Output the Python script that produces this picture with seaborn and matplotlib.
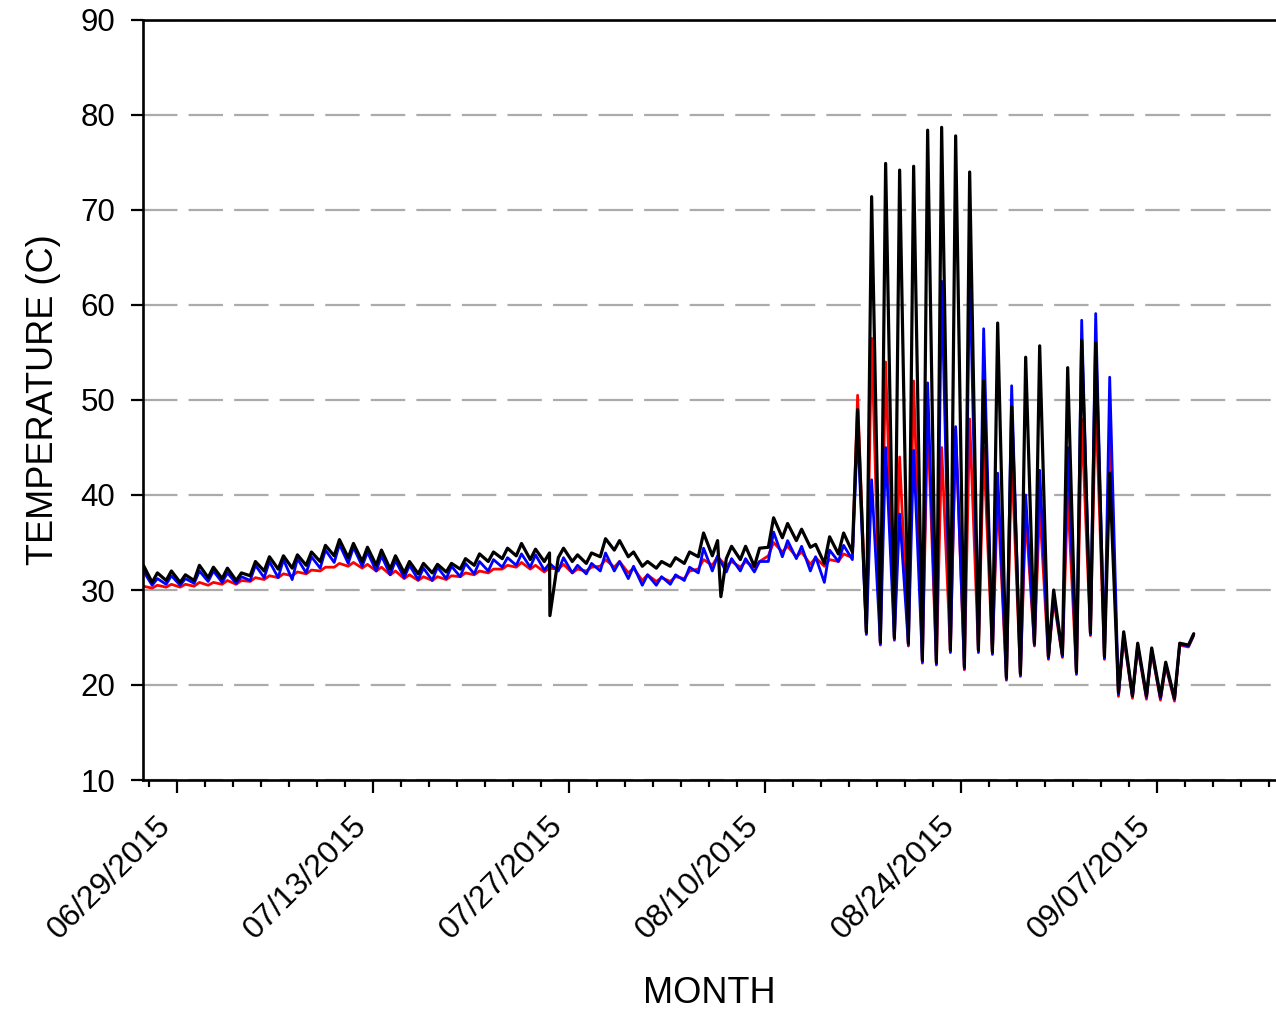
import numpy as np
import pandas as pd
import matplotlib
matplotlib.use("Agg")
import matplotlib.pyplot as plt
import matplotlib.dates as mdates
import seaborn as sns

# ---------------------------------------------------------------------------
# Daily readings, 2015-06-26 .. 2015-09-09 (one entry per day).
# *_low  : early-morning minimum (logged around 06:00)
# *_high : afternoon maximum   (logged around 15:00)
# ---------------------------------------------------------------------------
days = pd.date_range("2015-06-26", "2015-09-09", freq="D")

black_high = [
    32.6, 31.8, 32.0, 31.6, 32.6,                      # Jun 26-30
    32.4, 32.3, 31.8, 33.0, 33.5, 33.6, 33.7,          # Jul 1-7
    34.0, 34.7, 35.3, 34.9, 34.5, 34.2, 33.6,          # Jul 8-14
    33.0, 32.8, 32.7, 32.8, 33.3, 33.8, 34.0,          # Jul 15-21
    34.4, 34.9, 34.3, 33.9, 34.4, 33.7, 33.9,          # Jul 22-28
    35.4, 35.2, 34.0,                                  # Jul 29-31
    33.0, 33.0, 33.4, 34.0, 36.0, 35.2, 34.6,          # Aug 1-7
    34.6, 34.4, 37.6, 37.0, 36.4, 34.8, 35.6,          # Aug 8-14
    36.0, 49.0, 71.4, 74.9, 74.2, 74.6, 78.4,          # Aug 15-21
    78.7, 77.8, 74.0, 52.0, 58.1, 49.3, 54.5,          # Aug 22-28
    55.7, 30.0, 53.4,                                  # Aug 29-31
    56.3, 56.0, 42.3, 25.6, 24.4, 23.9, 22.4,          # Sep 1-7
    24.4, 25.4,                                        # Sep 8-9
]
black_low = [
    31.5, 30.8, 31.0, 30.8, 31.0,
    31.3, 31.2, 31.0, 31.5, 32.0, 32.2, 32.3,
    32.6, 33.0, 33.6, 33.4, 33.0, 32.6, 32.2,
    31.8, 31.7, 31.8, 31.9, 32.2, 32.6, 33.0,
    33.3, 33.6, 33.2, 33.0, 33.4, 33.0, 32.8,
    33.5, 34.2, 33.5,
    32.5, 32.3, 32.5, 32.8, 33.5, 33.6, 33.3,
    33.2, 32.5, 34.5, 35.5, 35.2, 34.5, 32.8,
    33.8, 34.0, 25.6, 24.5, 25.0, 24.4, 22.6,
    22.4, 23.7, 21.9, 23.7, 23.5, 20.8, 21.2,
    24.4, 23.0, 23.2,
    21.4, 25.5, 23.0, 19.2, 18.9, 18.9, 18.8,
    18.6, 24.2,
]

blue_high = [
    32.0, 31.2, 31.5, 31.2, 32.0,
    32.0, 31.8, 31.4, 32.6, 33.0, 33.2, 33.3,
    33.5, 34.2, 34.8, 34.5, 34.0, 33.6, 33.1,
    32.6, 32.3, 32.4, 32.5, 32.8, 33.0, 33.2,
    33.4, 33.8, 33.7, 32.8, 33.4, 32.6, 32.8,
    33.9, 33.0, 32.5,
    31.6, 31.4, 31.6, 32.4, 34.4, 33.6, 33.3,
    33.3, 33.0, 36.1, 35.2, 34.6, 33.5, 34.2,
    34.7, 47.0, 41.6, 45.0, 38.0, 44.7, 51.8,
    62.5, 47.2, 64.4, 57.5, 42.3, 51.5, 40.0,
    42.6, 29.5, 45.0,
    58.4, 59.1, 52.4, 25.3, 24.2, 23.7, 22.2,
    24.3, 25.3,
]
blue_low = [
    30.8, 30.5, 30.6, 30.5, 30.7,
    30.9, 30.8, 30.7, 31.0, 31.3, 31.3, 31.1,
    31.8, 32.3, 32.9, 32.8, 32.5, 32.0, 31.6,
    31.3, 31.1, 31.0, 31.2, 31.4, 31.7, 32.0,
    32.4, 32.6, 32.4, 32.1, 32.0, 31.8, 31.7,
    32.0, 32.0, 31.2,
    30.5, 30.5, 30.6, 31.0, 31.8, 32.0, 31.9,
    32.0, 31.9, 33.0, 33.5, 33.3, 32.0, 30.8,
    33.0, 33.2, 25.4, 24.3, 24.8, 24.2, 22.4,
    22.2, 23.5, 21.7, 23.5, 23.3, 20.6, 21.0,
    24.2, 22.8, 23.0,
    21.2, 25.3, 22.8, 19.0, 18.8, 18.7, 18.6,
    18.5, 24.1,
]

red_high = [
    30.4, 30.5, 30.6, 30.6, 30.8,
    30.8, 31.0, 31.0, 31.3, 31.5, 31.7, 31.9,
    32.1, 32.4, 32.8, 32.9, 32.7, 32.4, 32.0,
    31.6, 31.4, 31.4, 31.5, 31.8, 32.0, 32.2,
    32.6, 32.9, 32.6, 32.3, 32.7, 32.2, 32.4,
    33.2, 33.0, 32.3,
    31.6, 31.3, 31.4, 32.0, 33.2, 33.5, 33.0,
    33.0, 33.0, 35.0, 34.6, 34.0, 33.4, 33.2,
    33.8, 50.5, 56.5, 54.0, 44.0, 52.0, 48.0,
    45.0, 47.0, 48.0, 45.0, 40.0, 44.0, 38.0,
    38.7, 29.0, 40.0,
    48.0, 50.0, 46.6, 25.0, 24.0, 23.5, 22.0,
    24.2, 25.2,
]
red_low = [
    30.1, 30.2, 30.3, 30.3, 30.4,
    30.5, 30.6, 30.6, 30.9, 31.1, 31.3, 31.5,
    31.7, 32.0, 32.4, 32.5, 32.3, 32.0, 31.6,
    31.2, 31.0, 31.0, 31.1, 31.4, 31.6, 31.8,
    32.2, 32.4, 32.2, 31.9, 32.2, 31.8, 32.0,
    32.5, 32.4, 31.8,
    31.0, 30.9, 30.9, 31.2, 32.2, 32.6, 32.5,
    32.4, 32.4, 33.6, 34.0, 33.5, 32.7, 32.5,
    33.0, 33.4, 25.3, 24.2, 24.7, 24.1, 22.3,
    22.1, 23.4, 21.6, 23.4, 23.2, 20.5, 20.9,
    24.1, 22.7, 22.9,
    21.1, 25.2, 22.7, 18.8, 18.6, 18.5, 18.4,
    18.3, 24.0,
]

# Short sensor dropouts on the black channel
black_dropout_times = ["2015-07-25 15:40", "2015-08-06 20:40"]
black_dropout_values = [27.3, 29.3]

# Axis ticks
major_ticks = pd.date_range("2015-06-29", "2015-09-07", freq="14D")
minor_ticks = pd.date_range("2015-06-27", "2015-09-15", freq="2D")
y_ticks = [10, 20, 30, 40, 50, 60, 70, 80, 90]


def build_series(low, high, extra_t=(), extra_v=()):
    t = list(days + pd.Timedelta(hours=6)) + list(days + pd.Timedelta(hours=15))
    v = list(low) + list(high)
    t += list(pd.to_datetime(list(extra_t)))
    v += list(extra_v)
    df = pd.DataFrame({"time": t, "temp": v}).sort_values("time")
    return df.reset_index(drop=True)


red_df = build_series(red_low, red_high)
blue_df = build_series(blue_low, blue_high)
black_df = build_series(black_low, black_high,
                        black_dropout_times, black_dropout_values)

sns.set_style("white")
plt.rcParams["font.family"] = ["Liberation Sans", "DejaVu Sans"]

fig = plt.figure(figsize=(12.76, 10.11), dpi=100)
ax = fig.add_axes([143 / 1276, 231 / 1011, 1 - 143 / 1276, 760 / 1011])

for df, col, w in [(red_df, "#ff0000", 2.0), (blue_df, "#0000ff", 2.0),
                   (black_df, "#000000", 2.3)]:
    sns.lineplot(data=df, x="time", y="temp", color=col, lw=w,
                 estimator=None, sort=True, ax=ax)

ax.set_xlim(pd.Timestamp("2015-06-26 14:20"), pd.Timestamp("2015-09-15 12:00"))
ax.set_ylim(10, 90)

ax.set_yticks(y_ticks)
ax.set_xticks(major_ticks)
ax.set_xticks(minor_ticks, minor=True)
ax.xaxis.set_major_formatter(mdates.DateFormatter("%m/%d/%Y"))

ax.yaxis.grid(True, color="#ababab", lw=1.6, linestyle=(0, (15.5, 5.0)))
ax.xaxis.grid(False)

for side in ["left", "bottom", "top"]:
    ax.spines[side].set_color("black")
    ax.spines[side].set_linewidth(1.9)
ax.spines["right"].set_visible(False)

ax.tick_params(axis="y", which="major", direction="out", length=9, width=1.6,
               labelsize=22.5, pad=11, colors="black", left=True)
ax.tick_params(axis="x", which="major", direction="out", length=9, width=1.6,
               labelsize=23, pad=13, colors="black", bottom=True)
ax.tick_params(axis="x", which="minor", direction="out", length=5, width=1.6,
               bottom=True, colors="black")
for lab in ax.get_xticklabels():
    lab.set_rotation(45)
    lab.set_ha("right")

ax.set_xlabel("MONTH", fontsize=26, labelpad=22, color="black")
ax.set_ylabel("TEMPERATURE (C)", fontsize=26, labelpad=14, color="black")

fig.savefig("out.png", dpi=100)
